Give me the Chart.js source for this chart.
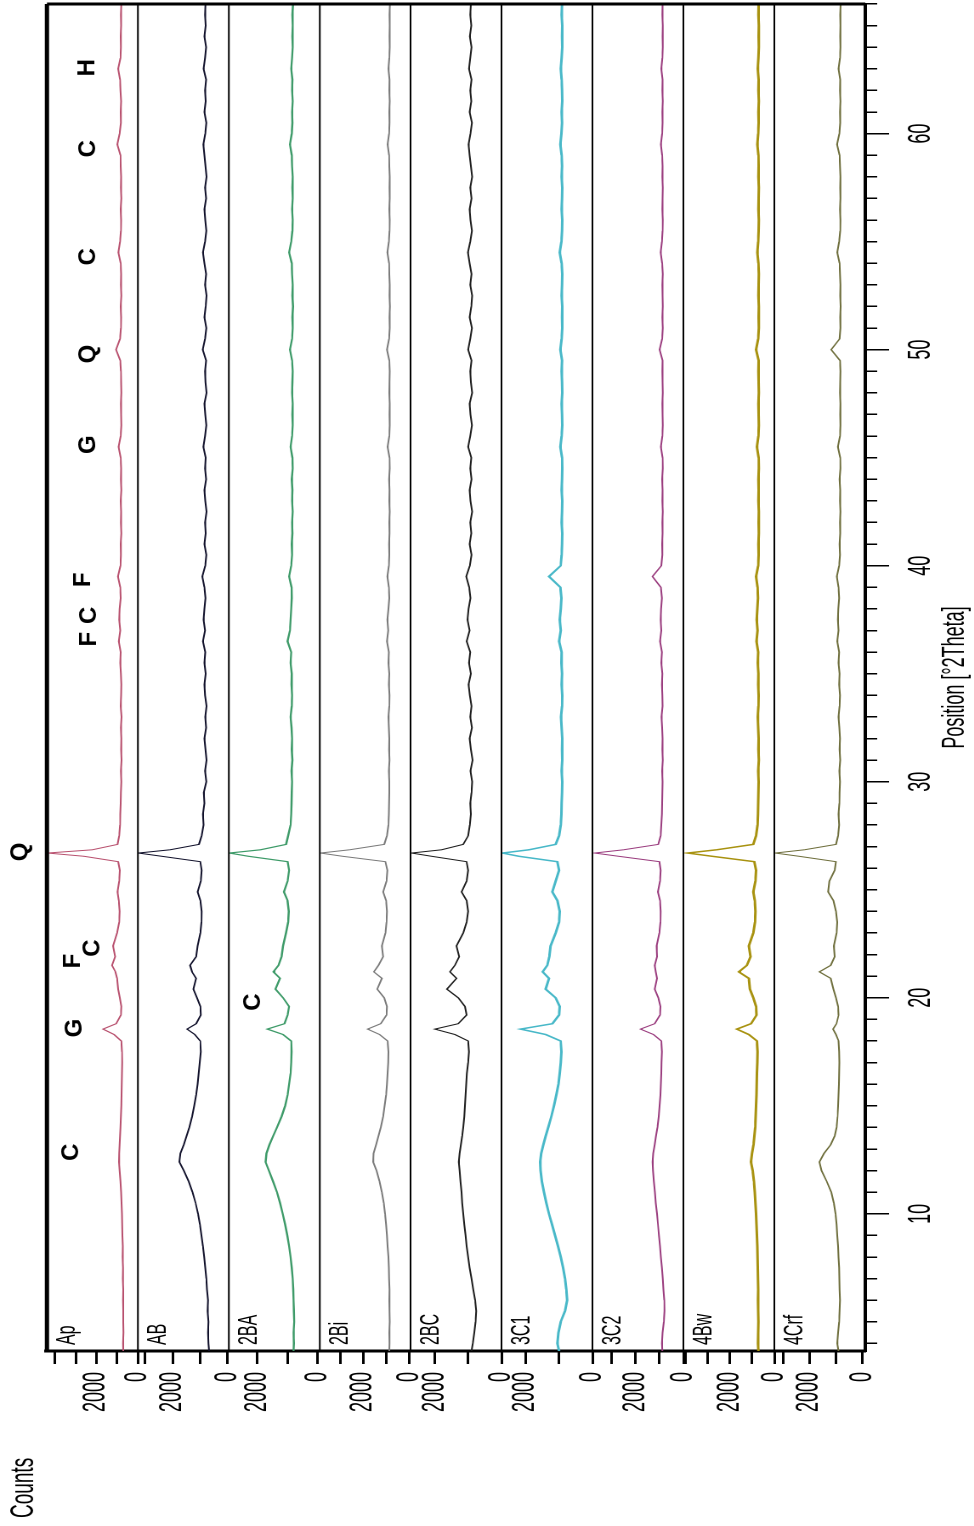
<!DOCTYPE html>
<html>
<head>
<meta charset="utf-8">
<title>XRD patterns by horizon</title>
<script src="https://cdn.jsdelivr.net/npm/chart.js@4.4.1/dist/chart.umd.min.js"></script>
<style>
  html, body { margin: 0; padding: 0; background: #fff; width: 974px; height: 1526px; overflow: hidden; }
  /* the chart is drawn landscape and turned a quarter turn, like the scanned figure */
  #wrap { position: absolute; left: 0; top: 0; width: 1526px; height: 573px;
          transform-origin: 0 0; transform: translateY(1526px) rotate(-90deg) scaleY(1.7); }
</style>
</head>
<body>
<div id="wrap"><canvas id="xrd" width="1526" height="573"></canvas></div>
<script>
// position grid, °2Theta
const twoTheta = [
  3.65, 4, 4.5, 5, 5.5, 6, 6.5, 7, 7.5, 8,
  8.5, 9, 9.5, 10, 10.5, 11, 11.5, 12, 12.4, 12.8,
  13.2, 13.6, 14, 14.5, 15, 15.5, 16, 16.5, 17, 17.5,
  18, 18.3, 18.55, 18.8, 19.2, 19.6, 20, 20.4, 20.9, 21.2,
  21.5, 21.9, 22.4, 23, 23.5, 24, 24.5, 24.9, 25.4, 25.9,
  26.3, 26.55, 26.7, 26.85, 27.1, 27.5, 28, 28.5, 29, 29.5,
  30, 30.5, 31, 31.5, 32, 32.5, 33, 33.5, 34, 34.5,
  35, 35.5, 36, 36.5, 37, 37.5, 38, 38.5, 39, 39.5,
  40, 40.5, 41, 41.5, 42, 42.5, 43, 43.5, 44, 44.5,
  45, 45.5, 46, 46.5, 47, 47.5, 48, 48.5, 49, 49.5,
  50, 50.5, 51, 51.5, 52, 52.5, 53, 53.5, 54, 54.5,
  55, 55.5, 56, 56.5, 57, 57.5, 58, 58.5, 59, 59.5,
  60, 60.5, 61, 61.5, 62, 62.5, 63, 63.5, 64, 64.5,
  65, 65.5, 66
];

const countsAp = [
  700, 720, 690, 710, 700, 720, 710, 730, 720, 740,
  730, 750, 760, 770, 790, 810, 840, 880, 910, 900,
  880, 860, 840, 820, 800, 790, 780, 770, 760, 770,
  800, 1150, 1680, 1050, 820, 800, 870, 950, 1000, 1080,
  1250, 1100, 1200, 1000, 900, 880, 920, 980, 900, 870,
  950, 2600, 4360, 2200, 980, 900, 860, 850, 830, 820,
  800, 820, 790, 810, 800, 820, 790, 830, 810, 800,
  820, 850, 830, 920, 850, 900, 880, 830, 850, 960,
  840, 820, 830, 800, 820, 810, 830, 800, 820, 810,
  830, 930, 830, 800, 810, 820, 800, 810, 820, 850,
  1050, 860, 820, 810, 830, 800, 820, 810, 830, 940,
  860, 820, 810, 830, 800, 820, 810, 830, 840, 990,
  880, 820, 830, 810, 840, 860, 950, 840, 820, 830,
  810, 820, 800
];
const countsAB = [
  680, 700, 720, 700, 730, 720, 760, 780, 820, 860,
  900, 960, 1010, 1080, 1170, 1280, 1420, 1600, 1760, 1720,
  1600, 1500, 1400, 1300, 1220, 1150, 1100, 1060, 1020, 980,
  1000, 1200, 1480, 1150, 980, 1000, 1120, 1250, 1150, 1300,
  1370, 1150, 1100, 1000, 960, 950, 1000, 1100, 980, 950,
  1000, 2400, 3250, 2100, 1050, 950, 880, 900, 850, 870,
  780, 830, 770, 810, 850, 790, 820, 770, 830, 850,
  800, 850, 820, 900, 830, 880, 850, 810, 850, 930,
  820, 780, 850, 800, 830, 770, 820, 850, 790, 830,
  800, 890, 830, 780, 820, 850, 770, 810, 830, 790,
  910, 830, 780, 850, 800, 770, 830, 790, 850, 900,
  830, 780, 820, 850, 790, 830, 770, 810, 850, 890,
  820, 780, 850, 800, 830, 790, 880, 830, 790, 850,
  800, 830, 810
];
const counts2BA = [
  800, 790, 800, 780, 790, 800, 810, 830, 860, 900,
  950, 1010, 1080, 1160, 1250, 1350, 1480, 1620, 1730, 1700,
  1600, 1480, 1350, 1200, 1080, 1000, 950, 900, 880, 870,
  880, 1150, 1670, 1100, 1000, 950, 1150, 1400, 1250, 1470,
  1300, 1200, 1150, 1050, 980, 960, 1000, 1120, 1000, 950,
  1000, 2300, 2930, 1900, 1050, 980, 900, 880, 870, 860,
  850, 870, 840, 860, 850, 870, 900, 860, 850, 870,
  860, 900, 880, 1000, 920, 900, 880, 860, 870, 950,
  880, 850, 860, 840, 850, 830, 850, 840, 860, 830,
  840, 900, 850, 830, 840, 830, 850, 840, 830, 850,
  920, 850, 830, 840, 820, 840, 830, 850, 860, 950,
  880, 840, 830, 850, 830, 840, 830, 850, 860, 920,
  860, 840, 850, 830, 850, 840, 880, 850, 830, 840,
  830, 840, 820
];
const counts2Bi = [
  880, 870, 880, 860, 870, 880, 870, 890, 900, 920,
  950, 980, 1020, 1060, 1120, 1200, 1300, 1430, 1580, 1560,
  1450, 1350, 1250, 1150, 1080, 1020, 980, 950, 930, 920,
  950, 1300, 1820, 1250, 1000, 980, 1100, 1400, 1200, 1550,
  1350, 1150, 1200, 1050, 1000, 980, 1020, 1150, 1000, 960,
  1050, 2900, 3860, 2600, 1100, 980, 920, 900, 890, 880,
  880, 900, 870, 890, 880, 900, 920, 880, 870, 900,
  880, 920, 900, 980, 930, 960, 920, 880, 900, 960,
  900, 880, 890, 870, 880, 860, 880, 870, 890, 860,
  870, 950, 880, 860, 870, 860, 880, 870, 860, 880,
  980, 890, 860, 870, 850, 870, 860, 880, 890, 960,
  900, 870, 860, 880, 860, 870, 860, 880, 890, 950,
  890, 870, 880, 860, 880, 870, 920, 880, 860, 870,
  860, 870, 850
];
const counts2BC = [
  900, 860, 820, 780, 760, 790, 850, 900, 960, 1000,
  1050, 1080, 1120, 1150, 1180, 1200, 1230, 1260, 1280, 1260,
  1220, 1180, 1150, 1120, 1100, 1080, 1060, 1040, 1000, 980,
  1000, 1400, 2000, 1300, 1050, 1100, 1300, 1640, 1350, 1550,
  1400, 1270, 1350, 1150, 1050, 1000, 1050, 1200, 1050, 1000,
  1050, 2100, 2700, 1800, 1150, 1000, 950, 920, 940, 900,
  880, 930, 870, 920, 960, 890, 940, 900, 950, 990,
  920, 980, 940, 1050, 960, 1020, 990, 930, 970, 1060,
  950, 900, 960, 910, 940, 880, 930, 960, 900, 940,
  910, 1000, 940, 890, 930, 960, 880, 920, 940, 900,
  1000, 940, 890, 960, 910, 880, 940, 900, 960, 1010,
  940, 890, 930, 960, 900, 940, 880, 920, 960, 990,
  930, 890, 960, 910, 940, 900, 980, 940, 900, 950,
  910, 940, 920
];
const counts3C1 = [
  1000, 1050, 1020, 950, 820, 760, 780, 820, 880, 950,
  1030, 1120, 1210, 1300, 1380, 1450, 1510, 1550, 1560, 1530,
  1470, 1400, 1320, 1230, 1150, 1080, 1020, 980, 950, 930,
  950, 1400, 2150, 1200, 1000, 980, 1100, 1400, 1300, 1490,
  1350, 1290, 1250, 1100, 1000, 980, 1050, 1200, 1100, 1000,
  1050, 2200, 2690, 1900, 1100, 1000, 950, 930, 920, 910,
  900, 920, 900, 910, 900, 920, 940, 910, 900, 920,
  910, 930, 920, 1000, 950, 980, 950, 930, 960, 1300,
  950, 920, 910, 900, 920, 910, 900, 920, 910, 900,
  910, 960, 920, 900, 910, 920, 900, 910, 920, 910,
  960, 920, 900, 910, 900, 920, 910, 900, 920, 980,
  930, 910, 900, 920, 910, 900, 920, 910, 920, 960,
  930, 910, 920, 900, 910, 920, 950, 920, 900, 910,
  900, 920, 910
];
const counts3C2 = [
  880, 900, 870, 820, 790, 800, 830, 860, 900, 940,
  980, 1020, 1060, 1100, 1150, 1190, 1230, 1270, 1290, 1260,
  1200, 1140, 1080, 1030, 990, 960, 940, 920, 910, 900,
  920, 1250, 1790, 1200, 980, 960, 1050, 1200, 1100, 1150,
  1200, 1100, 1120, 1000, 960, 950, 980, 1060, 980, 950,
  1000, 2700, 3700, 2500, 1050, 950, 920, 900, 890, 880,
  870, 890, 860, 880, 870, 890, 910, 870, 880, 900,
  880, 920, 900, 980, 920, 950, 930, 900, 940, 1290,
  920, 880, 890, 870, 880, 860, 880, 870, 890, 860,
  870, 940, 880, 860, 870, 880, 860, 870, 880, 870,
  990, 890, 860, 880, 860, 870, 880, 860, 890, 950,
  900, 870, 860, 880, 870, 860, 880, 870, 890, 940,
  890, 870, 880, 860, 880, 870, 920, 880, 860, 870,
  860, 880, 870
];
const counts4Bw = [
  720, 740, 730, 720, 730, 740, 730, 740, 750, 760,
  770, 780, 800, 820, 850, 880, 920, 980, 1050, 1000,
  940, 900, 860, 840, 820, 800, 790, 780, 770, 760,
  780, 1150, 1690, 1050, 800, 820, 950, 1100, 1150, 1600,
  1240, 1070, 1150, 950, 870, 850, 880, 950, 850, 820,
  900, 2800, 3900, 2600, 950, 820, 760, 740, 730, 720,
  710, 730, 700, 720, 710, 730, 750, 720, 710, 730,
  720, 750, 730, 800, 760, 790, 770, 740, 760, 820,
  730, 710, 720, 700, 710, 700, 720, 710, 720, 700,
  710, 780, 720, 700, 710, 720, 700, 710, 720, 710,
  820, 730, 700, 710, 700, 720, 710, 700, 720, 770,
  730, 710, 700, 720, 710, 700, 720, 710, 720, 770,
  730, 710, 720, 700, 720, 710, 750, 720, 700, 710,
  700, 720, 710
];
const counts4Crf = [
  900, 950, 920, 880, 860, 850, 860, 870, 880, 900,
  920, 950, 980, 1020, 1080, 1180, 1350, 1550, 1630, 1450,
  1200, 1050, 980, 940, 920, 900, 890, 880, 870, 880,
  900, 1000, 1110, 980, 900, 920, 1000, 1100, 1200, 1630,
  1200, 1050, 1080, 980, 950, 1000, 1100, 1300, 1250, 1050,
  1000, 2400, 3300, 2200, 1000, 920, 880, 900, 870, 860,
  850, 870, 840, 860, 850, 870, 900, 860, 850, 880,
  860, 900, 880, 950, 900, 930, 910, 880, 900, 970,
  880, 850, 860, 840, 850, 830, 850, 840, 860, 830,
  840, 930, 850, 830, 840, 830, 850, 840, 830, 850,
  1180, 860, 830, 840, 820, 840, 830, 850, 860, 950,
  880, 840, 830, 850, 830, 840, 830, 850, 860, 960,
  870, 840, 850, 830, 850, 840, 900, 850, 830, 840,
  830, 840, 820
];

const horizons = ['Ap', 'AB', '2BA', '2Bi', '2BC', '3C1', '3C2', '4Bw', '4Crf'];
const horizonCounts = [countsAp, countsAB, counts2BA, counts2Bi, counts2BC, counts3C1, counts3C2, counts4Bw, counts4Crf];
// counts range of each stacked panel
const panelMin = [0, -36, -66, -43, 0, 0, 0, 0, -110];
const panelMax = [4390, 3270, 2950, 3890, 2727, 2716, 3790, 4090, 3333];
const countTicks = [0, 1000, 2000, 3000, 4000];
const countLabels = [0, 2000];

// mineral marks: letter, position, height (counts of the panel it sits in)
const markText = ['C', 'G', 'F', 'C', 'Q', 'F', 'C', 'F', 'G', 'Q', 'C', 'C', 'H', 'C'];
const markTheta = [12.85, 18.6, 21.7, 22.3, 26.75, 36.6, 37.7, 39.35, 45.6, 49.8, 54.3, 59.3, 63.05, 19.8];
const markCounts = [3210, 3060, 3110, 2170, 5680, 2350, 2350, 2650, 2400, 2400, 2400, 2400, 2420, 2130];
const markPanel = ['Ap', 'Ap', 'Ap', 'Ap', 'Ap', 'Ap', 'Ap', 'Ap', 'Ap', 'Ap', 'Ap', 'Ap', 'Ap', '2BA'];

const lineColors = ['#b8506e', '#10102a', '#3d9a68', '#7a7a7a', '#1c1c1c', '#48b8c8', '#9a3c7e', '#a89210', '#6e6e3c'];
const lineWidths = [1, 1, 1.2, 1, 1, 1.5, 1, 1.5, 1];

Chart.defaults.font.family = '"Liberation Sans", Arial, sans-serif';
Chart.defaults.color = '#000';

const datasets = horizons.map((h, i) => ({
    label: h,
    data: twoTheta.map((t, j) => ({ x: t, y: horizonCounts[i][j] })),
    xAxisID: 'x',
    yAxisID: 'y' + h,
    borderColor: lineColors[i],
    borderWidth: lineWidths[i],
    pointRadius: 0,
    tension: 0,
    fill: false
}));

const scales = {
    x: {
        type: 'linear', position: 'bottom', weight: 0, min: 3.65, max: 66,
        ticks: { display: false, stepSize: 1, maxTicksLimit: 100, includeBounds: false },
        grid: { drawOnChartArea: false, tickLength: 7, color: '#000', lineWidth: 1.5 },
        border: { display: true, color: '#000', width: 2 },
        afterFit: s => { s.height = 7; }
    },
    x2: {
        type: 'linear', position: 'bottom', weight: 1, min: 3.65, max: 66,
        ticks: { stepSize: 10, includeBounds: false, autoSkip: false, maxRotation: 0, padding: 8, font: { size: 18 } },
        grid: { drawOnChartArea: false, tickLength: 7, color: '#000', lineWidth: 1.5 },
        border: { display: false },
        title: { display: true, text: 'Position [°2Theta]', font: { size: 18 }, padding: { top: 0, bottom: 0 } },
        afterFit: s => { s.height = 57; }
    }
};
// stacked panels: the last one added ends up on top, so add them bottom first
for (let i = horizons.length - 1; i >= 0; i--) {
    scales['y' + horizons[i]] = {
        type: 'linear', position: 'left', stack: 'panels', stackWeight: 1,
        min: panelMin[i], max: panelMax[i],
        ticks: {
            autoSkip: false, padding: 8, font: { size: 18 },
            callback: v => countLabels.includes(v) ? String(v) : ''
        },
        // ticks every 1000 counts, whatever the panel range is
        afterBuildTicks: s => {
            s.ticks = countTicks.filter(v => v >= s.min && v <= s.max).map(v => ({ value: v }));
        },
        grid: { drawOnChartArea: false, tickLength: 13, color: '#000', lineWidth: 1.5 },
        border: { display: true, color: '#000', width: 3 },
        afterFit: s => { s.width = 167; }
    };
}

// frame, panel dividers, horizon names and mineral letters
const panelDecor = {
    id: 'panelDecor',
    afterDatasetsDraw(chart) {
        const { ctx, chartArea: a, scales: sc } = chart;
        ctx.save();
        ctx.strokeStyle = '#000';
        ctx.lineWidth = 1;
        horizons.forEach((h, i) => {
            if (i === 0) return;
            const y = sc['y' + h].top;
            ctx.beginPath(); ctx.moveTo(a.left, y); ctx.lineTo(a.right, y); ctx.stroke();
        });
        ctx.lineWidth = 2.5;
        ctx.beginPath(); ctx.moveTo(a.left, a.top); ctx.lineTo(a.right, a.top); ctx.stroke();
        ctx.lineWidth = 3;
        ctx.beginPath(); ctx.moveTo(a.right, a.top); ctx.lineTo(a.right, a.bottom); ctx.stroke();

        ctx.fillStyle = '#000';
        ctx.font = '16px "Liberation Sans", Arial, sans-serif';
        ctx.textAlign = 'left';
        ctx.textBaseline = 'top';
        horizons.forEach(h => ctx.fillText(h, a.left + 6, sc['y' + h].top + 4));

        ctx.font = 'bold 24px "Liberation Sans", Arial, sans-serif';
        ctx.textAlign = 'center';
        ctx.textBaseline = 'middle';
        markText.forEach((t, i) => {
            const px = sc.x.getPixelForValue(markTheta[i]);
            const py = sc['y' + markPanel[i]].getPixelForValue(markCounts[i]);
            ctx.save();
            ctx.translate(px, py);
            ctx.scale(1, 0.6);
            ctx.fillText(t, 0, 0);
            ctx.restore();
        });
        ctx.restore();
    }
};

new Chart(document.getElementById('xrd').getContext('2d'), {
    type: 'line',
    data: { datasets: datasets },
    options: {
        responsive: false,
        devicePixelRatio: 2,
        animation: false,
        layout: { padding: { left: 8, right: 4, top: 0, bottom: 0 } },
        scales: scales,
        plugins: {
            legend: { display: false },
            tooltip: { enabled: false },
            title: {
                display: true, text: 'Counts', align: 'start',
                font: { size: 19, weight: 'normal' }, padding: { top: 3, bottom: 1.8 }
            }
        }
    },
    plugins: [panelDecor]
});
</script>
</body>
</html>
